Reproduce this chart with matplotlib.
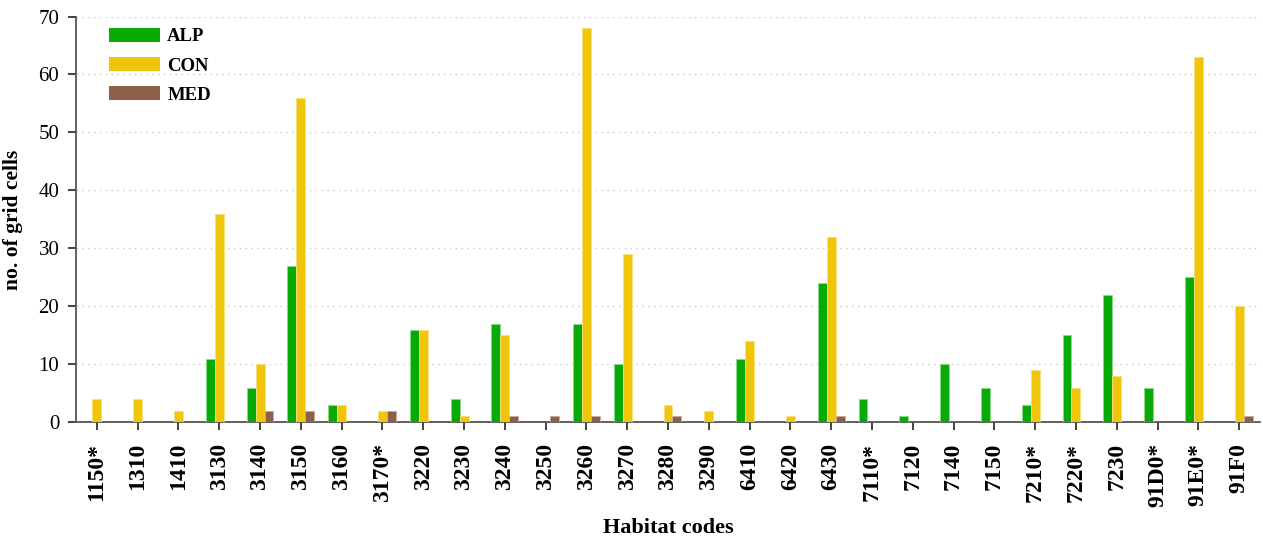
import matplotlib
matplotlib.use("Agg")
import matplotlib.pyplot as plt
import numpy as np

# Habitat codes and number of grid cells per biogeographical region
habitats = ["1150*", "1310", "1410", "3130", "3140", "3150", "3160", "3170*",
            "3220", "3230", "3240", "3250", "3260", "3270", "3280", "3290",
            "6410", "6420", "6430", "7110*", "7120", "7140", "7150", "7210*",
            "7220*", "7230", "91D0*", "91E0*", "91F0"]
alp = [0, 0, 0, 11, 6, 27, 3, 0, 16, 4, 17, 0, 17, 10, 0, 0,
       11, 0, 24, 4, 1, 10, 6, 3, 15, 22, 6, 25, 0]
con = [4, 4, 2, 36, 10, 56, 3, 2, 16, 1, 15, 0, 68, 29, 3, 2,
       14, 1, 32, 0, 0, 0, 0, 9, 6, 8, 0, 63, 20]
med = [0, 0, 0, 0, 2, 2, 0, 2, 0, 0, 1, 1, 1, 0, 1, 0,
       0, 0, 1, 0, 0, 0, 0, 0, 0, 0, 0, 0, 1]
yticks = [0, 10, 20, 30, 40, 50, 60, 70]

series = [("ALP", alp, "#07AA07", "#8ADB8A"),
          ("CON", con, "#F0C60C", "#F7E07A"),
          ("MED", med, "#8E5F4B", "#C9A999")]

serif = ["Liberation Serif", "DejaVu Serif"]
plt.rcParams["font.family"] = serif

fig = plt.figure(figsize=(12.63, 5.43), dpi=100)
ax = fig.add_axes([0.0602, 0.2223, 0.9374, 0.7473])

x = np.arange(len(habitats))
w = 0.22
for i, (name, vals, fc, ec) in enumerate(series):
    ax.bar(x + (i - 1) * w, vals, width=w, color=fc, edgecolor=ec,
           linewidth=0.6, label=name, zorder=3)

ax.set_xlim(-0.51, len(habitats) - 1 + 0.51)
ax.set_ylim(0, 70)
ax.set_yticks(yticks)
ax.yaxis.grid(True, linestyle=(0, (1, 3.2)), color="#C8C8C8", linewidth=1.0, zorder=0)
ax.set_axisbelow(True)

for s in ("top", "right"):
    ax.spines[s].set_visible(False)
for s in ("left", "bottom"):
    ax.spines[s].set_color("#555555")
    ax.spines[s].set_linewidth(1.3)

ax.set_xticks(x)
ax.set_xticklabels(habitats, rotation=90, fontsize=17, fontweight="bold",
                   va="top", ha="center")
ax.tick_params(axis="x", length=6, width=1.3, color="#333333", pad=9)
ax.tick_params(axis="y", length=6, width=1.3, color="#333333", pad=6,
               labelsize=15)

ax.set_xlabel("Habitat codes", fontsize=16, fontweight="bold", labelpad=8)
ax.set_ylabel("no. of grid cells", fontsize=15.5, fontweight="bold", labelpad=11)

leg = ax.legend(loc="upper left", bbox_to_anchor=(0.028, 0.972), frameon=False,
                prop={"family": serif, "weight": "bold", "size": 13.5},
                handlelength=2.7, handleheight=0.78, handletextpad=0.4,
                labelspacing=0.62, borderaxespad=0, borderpad=0)
for h in leg.legend_handles:
    h.set_linewidth(0)

fig.savefig("out.png", dpi=100)
